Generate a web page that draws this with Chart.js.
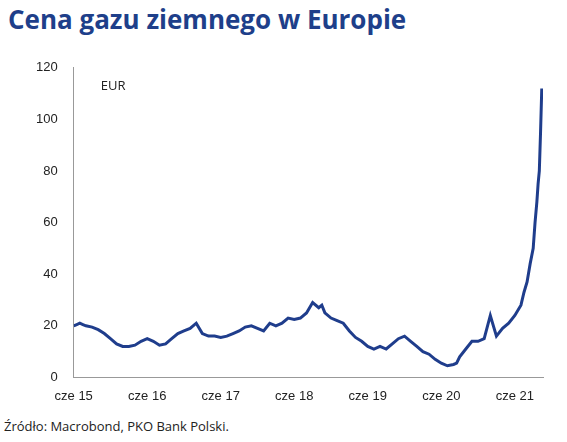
<!DOCTYPE html>
<html><head><meta charset="utf-8">
<script src="https://cdn.jsdelivr.net/npm/chart.js@4"></script>
<style>
body{margin:0;background:#fff;font-family:"Open Sans",sans-serif;}
#t{position:absolute;left:8px;top:1px;font-size:26px;font-weight:bold;color:#1e3f8a;}
#s{position:absolute;left:4px;top:417px;font-size:13px;color:#222;}
#w{position:absolute;left:28px;top:52px;width:525px;height:355px;}
</style></head><body>
<div id="t">Cena gazu ziemnego w Europie</div>
<div id="w"><canvas id="c"></canvas></div>
<div id="s">Źródło: Macrobond, PKO Bank Polski.</div>
<script>
// months since June 2015
const months = [0,0.5,1,1.5,2,3,4,5,6,7,8,9,10,11,12,13,14,15,16,17,18,19,20,21,22,23,24,25,26,27,28,29,30,31,32,33,34,35,36,37,38,39,40,40.5,41,42,43,44,45,46,47,48,49,50,51,52,53,54,55,56,57,58,59,60,61,62,62.5,63,64,65,66,67,68,69,70,71,72,73,73.5,74,74.5,75,75.3,75.6,75.8,76,76.2,76.4];
const price = [20,20.5,21,20.5,20,19.5,18.5,17,15,13,12,12,12.5,14,15,14,12.5,13,15,17,18,19,21,17,16,16,15.5,16,17,18,19.5,20,19,18,21,20,21,23,22.5,23,25,29,27,28,25,23,22,21,18,15.5,14,12,11,12,11,13,15,16,14,12,10,9,7,5.5,4.5,5,5.5,8,11,14,14,15,24,16,19,21,24,28,33,37,44,50,60,68,75,80,95,112,100,85,84];
const yTicks = [0,20,40,60,80,100,120];
const xLabels = {0:"cze 15",12:"cze 16",24:"cze 17",36:"cze 18",48:"cze 19",60:"cze 20",72:"cze 21"};

const eurLabel = {id:"eur",afterDraw(ch){const c=ch.ctx,a=ch.chartArea;c.save();c.font="13px 'Open Sans'";c.fillStyle="#222";c.fillText("EUR",a.left+27,a.top+22);c.restore();}};

new Chart(document.getElementById("c"),{
  type:"line",
  data:{datasets:[{data:months.map((m,i)=>({x:m,y:price[i]})),borderColor:"#1f3d8c",borderWidth:3,pointRadius:0,tension:0}]},
  options:{responsive:true,maintainAspectRatio:false,animation:false,
    layout:{padding:{right:10,top:10}},
    plugins:{legend:{display:false},tooltip:{enabled:false}},
    scales:{
      x:{type:"linear",min:0,max:76.6,grid:{display:false,drawTicks:true},border:{color:"#999"},
        afterBuildTicks(s){s.ticks=Object.keys(xLabels).map(v=>({value:+v}));},
        ticks:{color:"#222",font:{size:13},autoSkip:false,maxRotation:0,callback:v=>xLabels[v]}},
      y:{min:0,max:120,grid:{display:false},border:{color:"#999"},
        afterBuildTicks(s){s.ticks=yTicks.map(v=>({value:v}));},
        ticks:{color:"#222",font:{size:13},padding:8}}
    }},
  plugins:[eurLabel]
});
</script></body></html>
